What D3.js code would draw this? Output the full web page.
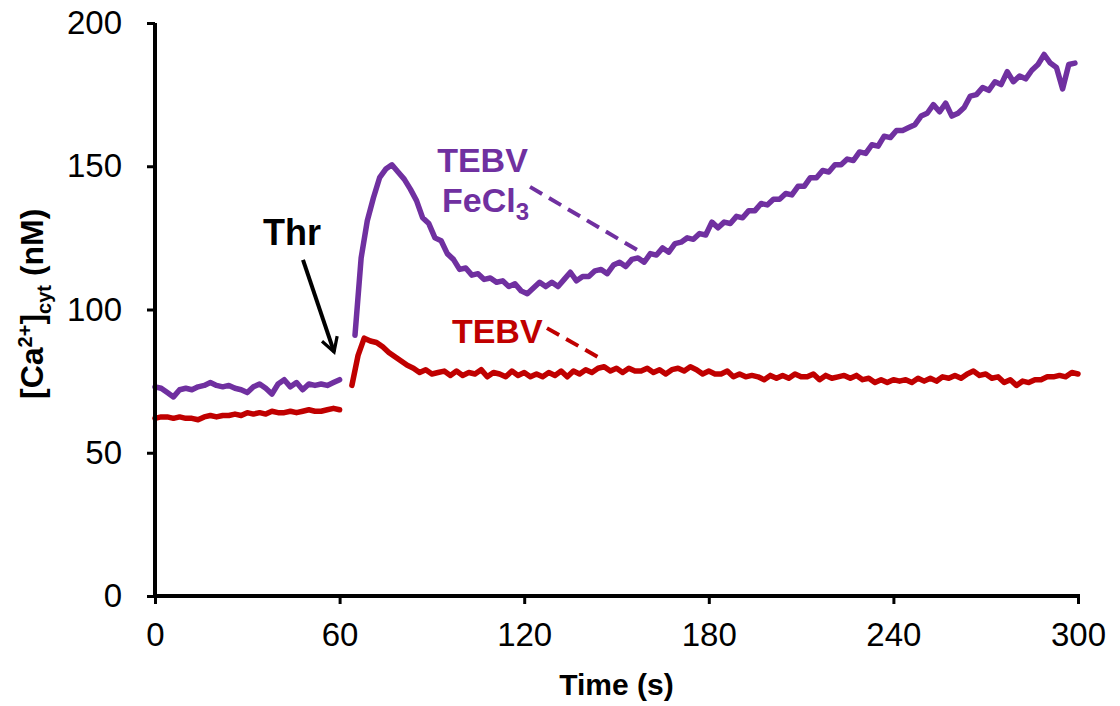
<!DOCTYPE html>
<html>
<head>
<meta charset="utf-8">
<script src="https://cdn.jsdelivr.net/npm/d3@7"></script>
<style>
  html, body { margin: 0; padding: 0; background: #fff; }
  svg { display: block; font-family: Arial, "Liberation Sans", sans-serif; }
</style>
</head>
<body>
<svg id="chart" width="1120" height="706"></svg>
<script>
// Cytosolic calcium traces, sampled every 2 s.
const sampleStep = 2;

// TEBV + FeCl3 (purple): baseline before thrombin, then response after it.
const fecl3BaseStart = 0;
const fecl3Base = [73, 72.5, 71, 69.5, 72, 72.5, 72, 73, 73.5, 74.5,
  73.5, 73, 73.5, 72.5, 72, 71, 73, 74, 72.5, 70.5,
  74, 75.5, 73, 74.5, 72, 74, 73.5, 74, 73.5, 74.5, 75.5];
const fecl3RespStart = 65;
const fecl3Resp = [91, 118, 131, 139, 146, 149, 150.5, 148, 145.5, 142,
  138, 132, 130, 125, 124, 119.5, 117.5, 114, 114.5, 112,
  112.5, 110.5, 111, 109.5, 110, 108, 109, 106.5, 105.5, 107.5,
  109.5, 108, 109.5, 108, 110.5, 113, 110, 111.5, 111.5, 113.5,
  114, 112.5, 115.5, 116.5, 115, 117.5, 118, 116.5, 119.5, 119,
  121.5, 120, 123, 123.5, 125, 124.5, 126.5, 126, 130.5, 128.5,
  130.5, 130, 132.5, 132, 134.5, 134.5, 137, 136.5, 138.5, 138.5,
  140.5, 140, 143, 143, 146, 146, 148.5, 148, 150.5, 150.5,
  152.5, 152, 155, 154.5, 157.5, 157, 160.5, 160, 162.5, 162.5,
  163.5, 164.5, 167.5, 168.5, 171.5, 169, 172, 167.5, 168.5, 170.5,
  174.5, 175, 177.5, 176.5, 179.5, 178.5, 183, 179.5, 181.5, 180.5,
  183.5, 185.5, 189, 186, 184.5, 177, 185.5, 186];

// TEBV (red)
const tebvBaseStart = 0;
const tebvBase = [62, 62.5, 62.5, 62, 62.5, 62, 62, 61.5, 62.5, 63,
  62.5, 63, 63, 63.5, 63, 64, 63.5, 64, 63.5, 64.5,
  64, 64, 64.5, 64, 64.5, 65, 64.5, 64.5, 65, 65.5, 65];
const tebvRespStart = 64;
const tebvResp = [73.5, 84, 90, 89, 88.5, 87, 85, 83.5, 82, 80.5,
  79.5, 78, 79, 77.5, 78, 78.5, 77, 78.5, 77, 78,
  77.5, 79, 76.5, 78, 77.5, 76.5, 78.5, 77, 78, 76.5,
  77.5, 76.5, 78, 77, 78.5, 76.5, 78.5, 77.5, 79, 78,
  79.5, 80, 78.5, 79.5, 78, 79.5, 78.5, 78.5, 79.5, 78,
  79, 77.5, 79, 79.5, 78.5, 80, 79, 77.5, 78.5, 77.5,
  77.5, 78.5, 76.5, 77.5, 76.5, 77, 76.5, 75.5, 77, 76,
  77, 76, 77.5, 76.5, 76.5, 77.5, 75.5, 77, 76, 76.5,
  77, 76, 77, 75.5, 76, 74.5, 75.5, 74.5, 75.5, 75,
  75.5, 74.5, 76, 75, 76, 75, 76.5, 76, 77, 76,
  77.5, 78.5, 77, 77.5, 76, 76.5, 74.5, 75.5, 73.5, 75,
  74.5, 75.5, 75.5, 76.5, 76.5, 77, 76.5, 78, 77.5];

// Axis ticks
const xTicks = [0, 60, 120, 180, 240, 300];
const yTicks = [0, 50, 100, 150, 200];

const purple = "#7030A0";
const red = "#C00000";

const svg = d3.select("#chart");
const x = d3.scaleLinear().domain([0, 300]).range([155, 1078]);
const y = d3.scaleLinear().domain([0, 200]).range([596, 23]);

const toPoints = (start, vals) => vals.map((v, i) => [start + i * sampleStep, v]);
const line = d3.line().x(d => x(d[0])).y(d => y(d[1]));

const traces = [
  { pts: toPoints(fecl3BaseStart, fecl3Base), color: purple },
  { pts: toPoints(fecl3RespStart, fecl3Resp), color: purple },
  { pts: toPoints(tebvBaseStart, tebvBase), color: red },
  { pts: toPoints(tebvRespStart, tebvResp), color: red }
];

svg.append("g").selectAll("path").data(traces).join("path")
  .attr("d", d => line(d.pts))
  .attr("fill", "none")
  .attr("stroke", d => d.color)
  .attr("stroke-width", 5.5)
  .attr("stroke-linejoin", "round")
  .attr("stroke-linecap", "round");

// Axes
const yAxis = svg.append("g").attr("transform", `translate(${x(0)},0)`)
  .call(d3.axisLeft(y).tickValues(yTicks).tickSize(8).tickSizeOuter(0).tickPadding(25));
const xAxis = svg.append("g").attr("transform", `translate(0,${y(0)})`)
  .call(d3.axisBottom(x).tickValues(xTicks).tickSize(8).tickSizeOuter(0).tickPadding(19));

[yAxis, xAxis].forEach(g => {
  g.select(".domain").attr("stroke", "#000").attr("stroke-width", 4);
  g.selectAll(".tick line").attr("stroke", "#000").attr("stroke-width", 3);
  g.selectAll(".tick text").attr("fill", "#000")
    .style("font-family", "Arial, 'Liberation Sans', sans-serif")
    .style("font-size", "33px");
});
// x-axis line extends slightly past the y-axis
xAxis.select(".domain").attr("d", `M${x(0) - 2},0H${x(300) + 2}`);
yAxis.select(".domain").attr("d", `M0,${y(200)}V${y(0) + 2}`);

// Axis titles
svg.append("text")
  .attr("x", (x(0) + x(300)) / 2)
  .attr("y", 695)
  .attr("text-anchor", "middle")
  .style("font-weight", "bold")
  .style("font-size", "30px")
  .text("Time (s)");

const yTitle = svg.append("text")
  .attr("transform", `translate(43,${y(102)}) rotate(-90)`)
  .attr("text-anchor", "middle")
  .style("font-weight", "bold")
  .style("font-size", "32px");
yTitle.append("tspan").text("[Ca");
yTitle.append("tspan").attr("dy", -11).style("font-size", "20px").text("2+");
yTitle.append("tspan").attr("dy", 11).text("]");
yTitle.append("tspan").attr("dy", 8).style("font-size", "20px").text("cyt");
yTitle.append("tspan").attr("dy", -8).text(" (nM)");

// Thrombin addition marker
const defs = svg.append("defs");
defs.append("marker")
  .attr("id", "arrowhead")
  .attr("viewBox", "0 0 10 10")
  .attr("refX", 8).attr("refY", 5)
  .attr("markerWidth", 5).attr("markerHeight", 5)
  .attr("orient", "auto")
  .append("path")
  .attr("d", "M1,1 L8,5 L1,9")
  .attr("fill", "none")
  .attr("stroke", "#000")
  .attr("stroke-width", 1.6)
  .attr("stroke-linejoin", "miter");

svg.append("text")
  .attr("x", x(44.5)).attr("y", y(122.5))
  .attr("text-anchor", "middle")
  .style("font-weight", "bold")
  .style("font-size", "36px")
  .text("Thr");

svg.append("line")
  .attr("x1", x(48.1)).attr("y1", y(117.3))
  .attr("x2", x(58.2)).attr("y2", y(85.2))
  .attr("stroke", "#000").attr("stroke-width", 4)
  .attr("marker-end", "url(#arrowhead)");

// Series labels with dashed leaders
const fl = svg.append("text")
  .attr("fill", purple)
  .style("font-weight", "bold")
  .style("font-size", "34px");
fl.append("tspan").attr("x", x(91.7)).attr("y", y(148)).text("TEBV");
fl.append("tspan").attr("x", x(93.3)).attr("y", y(134)).text("FeCl");
fl.append("tspan").attr("dy", 8).style("font-size", "24px").text("3");

svg.append("line")
  .attr("x1", x(121.9)).attr("y1", y(142.8))
  .attr("x2", x(156.7)).attr("y2", y(120.8))
  .attr("stroke", purple).attr("stroke-width", 4)
  .attr("stroke-dasharray", "14,8");

svg.append("text")
  .attr("x", x(96.5)).attr("y", y(88.3))
  .attr("fill", red)
  .style("font-weight", "bold")
  .style("font-size", "34px")
  .text("TEBV");

svg.append("line")
  .attr("x1", x(127.4)).attr("y1", y(93.5))
  .attr("x2", x(144)).attr("y2", y(83.4))
  .attr("stroke", red).attr("stroke-width", 4)
  .attr("stroke-dasharray", "14,8");
</script>
</body>
</html>
